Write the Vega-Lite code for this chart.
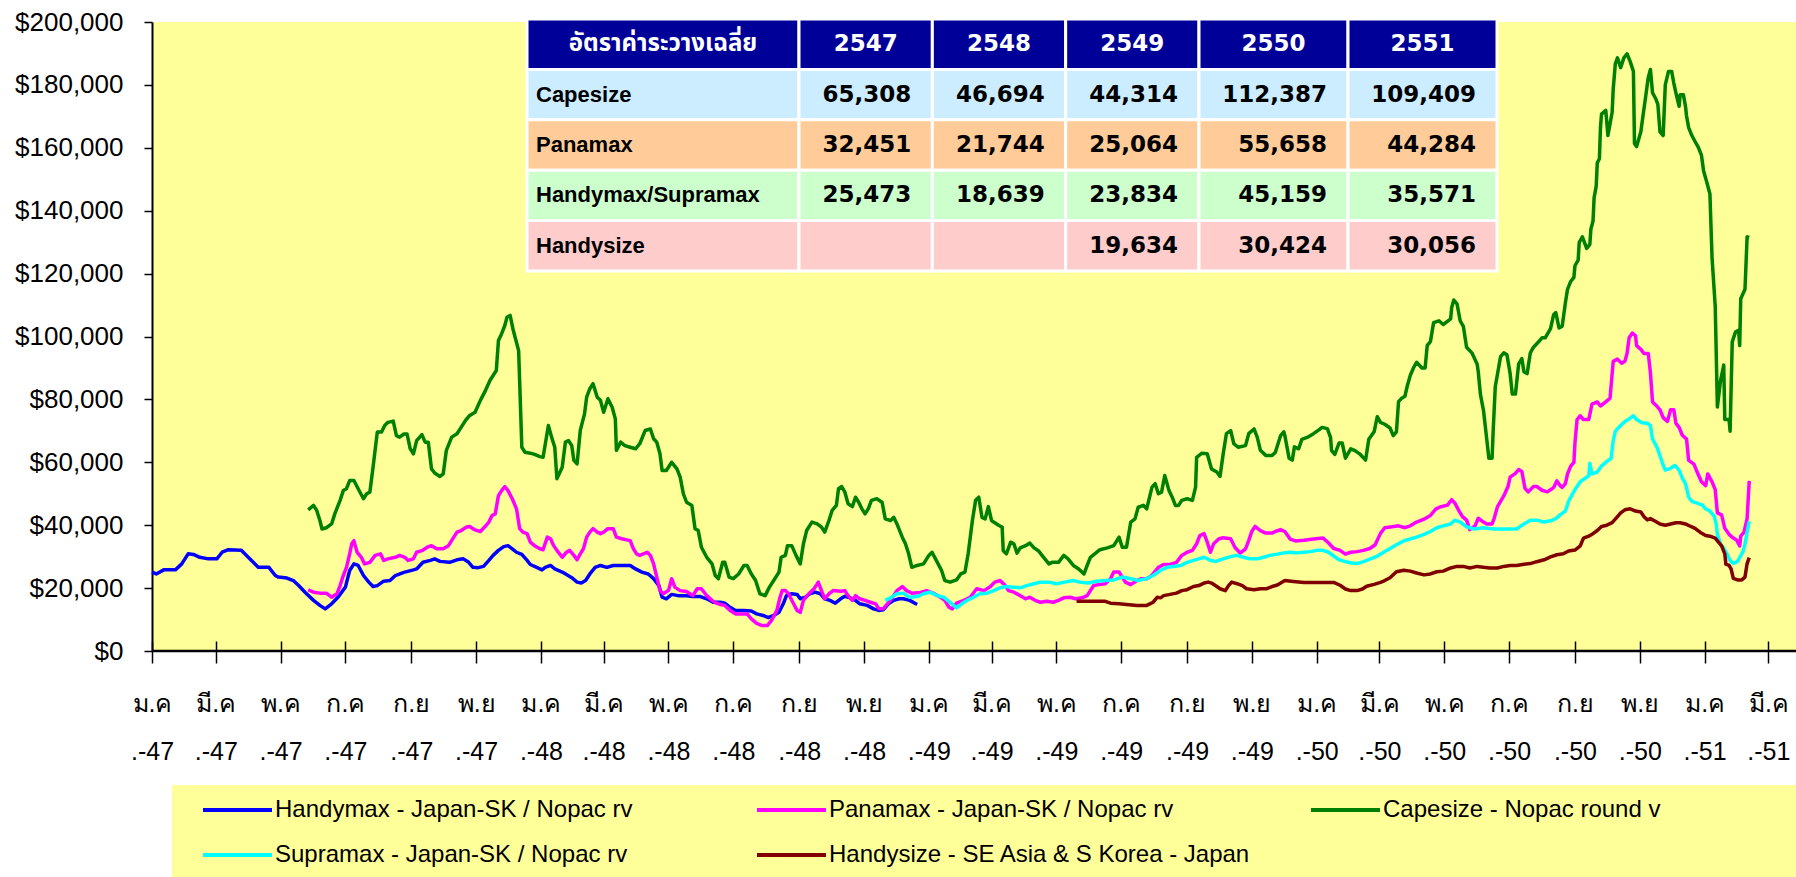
{
"$schema": "https://vega.github.io/schema/vega-lite/v6.json",
"autosize": {"type": "none"},
"width": 1644,
"height": 629,
"padding": {"left": 152, "top": 22, "right": 0, "bottom": 226},
"background": "white",
"config": {"view": {"fill": "#FFFF99", "stroke": null}, "axis": {"grid": false}},
"title": {"text": "(หน่วย : เหรียญ)", "anchor": "start", "frame": "group", "offset": 11, "dx": 28, "fontSize": 24, "fontWeight": "normal", "color": "black", "font": "Liberation Sans, Tahoma, sans-serif", "baseline": "alphabetic"},
"datasets": {
"rates": [
{"series":"Handymax","date":"2004-01-01","usd":25100},{"series":"Handymax","date":"2004-01-05","usd":24500},{"series":"Handymax","date":"2004-01-12","usd":25800},{"series":"Handymax","date":"2004-01-23","usd":25800},{"series":"Handymax","date":"2004-01-29","usd":27700},{"series":"Handymax","date":"2004-02-04","usd":30900},{"series":"Handymax","date":"2004-02-09","usd":30700},{"series":"Handymax","date":"2004-02-15","usd":29800},{"series":"Handymax","date":"2004-02-23","usd":29300},{"series":"Handymax","date":"2004-03-02","usd":29300},{"series":"Handymax","date":"2004-03-07","usd":31400},{"series":"Handymax","date":"2004-03-13","usd":32200},{"series":"Handymax","date":"2004-03-25","usd":32000},{"series":"Handymax","date":"2004-04-02","usd":29300},{"series":"Handymax","date":"2004-04-10","usd":26600},{"series":"Handymax","date":"2004-04-20","usd":26600},{"series":"Handymax","date":"2004-04-26","usd":24000},{"series":"Handymax","date":"2004-04-29","usd":23500},{"series":"Handymax","date":"2004-05-07","usd":23200},{"series":"Handymax","date":"2004-05-13","usd":22400},{"series":"Handymax","date":"2004-05-18","usd":20800},{"series":"Handymax","date":"2004-05-24","usd":18700},{"series":"Handymax","date":"2004-06-01","usd":16100},{"series":"Handymax","date":"2004-06-07","usd":14500},{"series":"Handymax","date":"2004-06-12","usd":13400},{"series":"Handymax","date":"2004-06-18","usd":15000},{"series":"Handymax","date":"2004-06-24","usd":17100},{"series":"Handymax","date":"2004-07-01","usd":20300},{"series":"Handymax","date":"2004-07-05","usd":25600},{"series":"Handymax","date":"2004-07-09","usd":27700},{"series":"Handymax","date":"2004-07-13","usd":27200},{"series":"Handymax","date":"2004-07-18","usd":24000},{"series":"Handymax","date":"2004-07-23","usd":21900},{"series":"Handymax","date":"2004-07-27","usd":20500},{"series":"Handymax","date":"2004-07-31","usd":20800},{"series":"Handymax","date":"2004-08-06","usd":22200},{"series":"Handymax","date":"2004-08-12","usd":22400},{"series":"Handymax","date":"2004-08-17","usd":24000},{"series":"Handymax","date":"2004-08-25","usd":25000},{"series":"Handymax","date":"2004-09-03","usd":25800},{"series":"Handymax","date":"2004-09-06","usd":26100},{"series":"Handymax","date":"2004-09-12","usd":28200},{"series":"Handymax","date":"2004-09-19","usd":28800},{"series":"Handymax","date":"2004-09-23","usd":29300},{"series":"Handymax","date":"2004-09-28","usd":28500},{"series":"Handymax","date":"2004-10-07","usd":28200},{"series":"Handymax","date":"2004-10-14","usd":29000},{"series":"Handymax","date":"2004-10-20","usd":29300},{"series":"Handymax","date":"2004-10-25","usd":28200},{"series":"Handymax","date":"2004-10-29","usd":26600},{"series":"Handymax","date":"2004-11-03","usd":26500},{"series":"Handymax","date":"2004-11-08","usd":26900},{"series":"Handymax","date":"2004-11-13","usd":28800},{"series":"Handymax","date":"2004-11-17","usd":30400},{"series":"Handymax","date":"2004-11-22","usd":32000},{"series":"Handymax","date":"2004-11-27","usd":33200},{"series":"Handymax","date":"2004-12-01","usd":33500},{"series":"Handymax","date":"2004-12-05","usd":32500},{"series":"Handymax","date":"2004-12-09","usd":31400},{"series":"Handymax","date":"2004-12-14","usd":30700},{"series":"Handymax","date":"2004-12-19","usd":28800},{"series":"Handymax","date":"2004-12-22","usd":27500},{"series":"Handymax","date":"2004-12-28","usd":26600},{"series":"Handymax","date":"2005-01-02","usd":25800},{"series":"Handymax","date":"2005-01-05","usd":26600},{"series":"Handymax","date":"2005-01-10","usd":27200},{"series":"Handymax","date":"2005-01-14","usd":26100},{"series":"Handymax","date":"2005-01-21","usd":25100},{"series":"Handymax","date":"2005-01-25","usd":24300},{"series":"Handymax","date":"2005-01-30","usd":23300},{"series":"Handymax","date":"2005-02-04","usd":21900},{"series":"Handymax","date":"2005-02-08","usd":21600},{"series":"Handymax","date":"2005-02-12","usd":22400},{"series":"Handymax","date":"2005-02-16","usd":24500},{"series":"Handymax","date":"2005-02-21","usd":26600},{"series":"Handymax","date":"2005-02-26","usd":27200},{"series":"Handymax","date":"2005-03-04","usd":26600},{"series":"Handymax","date":"2005-03-10","usd":27200},{"series":"Handymax","date":"2005-03-16","usd":27200},{"series":"Handymax","date":"2005-03-26","usd":27200},{"series":"Handymax","date":"2005-03-31","usd":26100},{"series":"Handymax","date":"2005-04-06","usd":25100},{"series":"Handymax","date":"2005-04-12","usd":24500},{"series":"Handymax","date":"2005-04-17","usd":23000},{"series":"Handymax","date":"2005-04-22","usd":20800},{"series":"Handymax","date":"2005-04-25","usd":17100},{"series":"Handymax","date":"2005-04-29","usd":16600},{"series":"Handymax","date":"2005-05-04","usd":18000},{"series":"Handymax","date":"2005-05-10","usd":17600},{"series":"Handymax","date":"2005-05-18","usd":17600},{"series":"Handymax","date":"2005-05-24","usd":17300},{"series":"Handymax","date":"2005-05-31","usd":17300},{"series":"Handymax","date":"2005-06-06","usd":16600},{"series":"Handymax","date":"2005-06-12","usd":15500},{"series":"Handymax","date":"2005-06-19","usd":15500},{"series":"Handymax","date":"2005-06-23","usd":15200},{"series":"Handymax","date":"2005-06-28","usd":13900},{"series":"Handymax","date":"2005-07-03","usd":12900},{"series":"Handymax","date":"2005-07-11","usd":12900},{"series":"Handymax","date":"2005-07-18","usd":12700},{"series":"Handymax","date":"2005-07-23","usd":11800},{"series":"Handymax","date":"2005-07-29","usd":11300},{"series":"Handymax","date":"2005-08-03","usd":10600},{"series":"Handymax","date":"2005-08-08","usd":11300},{"series":"Handymax","date":"2005-08-13","usd":12300},{"series":"Handymax","date":"2005-08-17","usd":15000},{"series":"Handymax","date":"2005-08-20","usd":17600},{"series":"Handymax","date":"2005-08-25","usd":18200},{"series":"Handymax","date":"2005-08-30","usd":18000},{"series":"Handymax","date":"2005-09-02","usd":16600},{"series":"Handymax","date":"2005-09-07","usd":17100},{"series":"Handymax","date":"2005-09-11","usd":18200},{"series":"Handymax","date":"2005-09-16","usd":18700},{"series":"Handymax","date":"2005-09-21","usd":18200},{"series":"Handymax","date":"2005-09-25","usd":16600},{"series":"Handymax","date":"2005-09-30","usd":16100},{"series":"Handymax","date":"2005-10-05","usd":15200},{"series":"Handymax","date":"2005-10-10","usd":16600},{"series":"Handymax","date":"2005-10-14","usd":17400},{"series":"Handymax","date":"2005-10-19","usd":16900},{"series":"Handymax","date":"2005-10-24","usd":16100},{"series":"Handymax","date":"2005-10-28","usd":15000},{"series":"Handymax","date":"2005-11-04","usd":14500},{"series":"Handymax","date":"2005-11-10","usd":13400},{"series":"Handymax","date":"2005-11-15","usd":12900},{"series":"Handymax","date":"2005-11-19","usd":13100},{"series":"Handymax","date":"2005-11-24","usd":15000},{"series":"Handymax","date":"2005-11-29","usd":16100},{"series":"Handymax","date":"2005-12-04","usd":16600},{"series":"Handymax","date":"2005-12-08","usd":16600},{"series":"Handymax","date":"2005-12-14","usd":16100},{"series":"Handymax","date":"2005-12-21","usd":14800},
{"series":"Panamax","date":"2004-05-27","usd":19400},{"series":"Panamax","date":"2004-06-01","usd":18700},{"series":"Panamax","date":"2004-06-07","usd":18400},{"series":"Panamax","date":"2004-06-13","usd":18400},{"series":"Panamax","date":"2004-06-18","usd":17100},{"series":"Panamax","date":"2004-06-23","usd":18200},{"series":"Panamax","date":"2004-06-26","usd":20800},{"series":"Panamax","date":"2004-06-29","usd":24000},{"series":"Panamax","date":"2004-07-02","usd":26600},{"series":"Panamax","date":"2004-07-05","usd":30900},{"series":"Panamax","date":"2004-07-07","usd":34100},{"series":"Panamax","date":"2004-07-09","usd":35100},{"series":"Panamax","date":"2004-07-12","usd":31400},{"series":"Panamax","date":"2004-07-16","usd":29800},{"series":"Panamax","date":"2004-07-19","usd":27700},{"series":"Panamax","date":"2004-07-24","usd":28200},{"series":"Panamax","date":"2004-07-29","usd":30400},{"series":"Panamax","date":"2004-08-03","usd":30900},{"series":"Panamax","date":"2004-08-06","usd":28800},{"series":"Panamax","date":"2004-08-10","usd":29300},{"series":"Panamax","date":"2004-08-17","usd":29800},{"series":"Panamax","date":"2004-08-21","usd":30400},{"series":"Panamax","date":"2004-08-26","usd":29800},{"series":"Panamax","date":"2004-08-29","usd":28800},{"series":"Panamax","date":"2004-09-03","usd":29300},{"series":"Panamax","date":"2004-09-06","usd":31400},{"series":"Panamax","date":"2004-09-11","usd":31900},{"series":"Panamax","date":"2004-09-16","usd":33000},{"series":"Panamax","date":"2004-09-20","usd":33500},{"series":"Panamax","date":"2004-09-25","usd":32500},{"series":"Panamax","date":"2004-10-01","usd":32500},{"series":"Panamax","date":"2004-10-06","usd":33500},{"series":"Panamax","date":"2004-10-11","usd":36200},{"series":"Panamax","date":"2004-10-14","usd":37800},{"series":"Panamax","date":"2004-10-18","usd":38300},{"series":"Panamax","date":"2004-10-23","usd":39400},{"series":"Panamax","date":"2004-10-26","usd":39600},{"series":"Panamax","date":"2004-10-31","usd":38500},{"series":"Panamax","date":"2004-11-05","usd":38000},{"series":"Panamax","date":"2004-11-09","usd":39400},{"series":"Panamax","date":"2004-11-13","usd":41000},{"series":"Panamax","date":"2004-11-16","usd":43100},{"series":"Panamax","date":"2004-11-19","usd":43600},{"series":"Panamax","date":"2004-11-22","usd":49400},{"series":"Panamax","date":"2004-11-25","usd":51000},{"series":"Panamax","date":"2004-11-28","usd":52300},{"series":"Panamax","date":"2004-12-01","usd":51000},{"series":"Panamax","date":"2004-12-05","usd":48400},{"series":"Panamax","date":"2004-12-09","usd":45200},{"series":"Panamax","date":"2004-12-12","usd":38900},{"series":"Panamax","date":"2004-12-15","usd":37800},{"series":"Panamax","date":"2004-12-19","usd":37300},{"series":"Panamax","date":"2004-12-22","usd":34600},{"series":"Panamax","date":"2004-12-26","usd":33500},{"series":"Panamax","date":"2004-12-31","usd":32500},{"series":"Panamax","date":"2005-01-03","usd":32200},{"series":"Panamax","date":"2005-01-07","usd":36200},{"series":"Panamax","date":"2005-01-10","usd":35700},{"series":"Panamax","date":"2005-01-13","usd":33500},{"series":"Panamax","date":"2005-01-16","usd":32000},{"series":"Panamax","date":"2005-01-21","usd":29800},{"series":"Panamax","date":"2005-01-25","usd":31400},{"series":"Panamax","date":"2005-01-28","usd":32000},{"series":"Panamax","date":"2005-02-01","usd":30400},{"series":"Panamax","date":"2005-02-04","usd":29000},{"series":"Panamax","date":"2005-02-07","usd":30900},{"series":"Panamax","date":"2005-02-10","usd":32500},{"series":"Panamax","date":"2005-02-13","usd":36200},{"series":"Panamax","date":"2005-02-16","usd":37800},{"series":"Panamax","date":"2005-02-19","usd":38900},{"series":"Panamax","date":"2005-02-23","usd":37800},{"series":"Panamax","date":"2005-02-26","usd":37300},{"series":"Panamax","date":"2005-03-01","usd":37800},{"series":"Panamax","date":"2005-03-05","usd":38900},{"series":"Panamax","date":"2005-03-10","usd":38900},{"series":"Panamax","date":"2005-03-13","usd":36200},{"series":"Panamax","date":"2005-03-18","usd":35700},{"series":"Panamax","date":"2005-03-26","usd":35100},{"series":"Panamax","date":"2005-03-29","usd":32500},{"series":"Panamax","date":"2005-04-01","usd":30900},{"series":"Panamax","date":"2005-04-04","usd":30400},{"series":"Panamax","date":"2005-04-11","usd":31400},{"series":"Panamax","date":"2005-04-14","usd":30400},{"series":"Panamax","date":"2005-04-17","usd":27700},{"series":"Panamax","date":"2005-04-20","usd":23500},{"series":"Panamax","date":"2005-04-23","usd":19200},{"series":"Panamax","date":"2005-04-26","usd":18200},{"series":"Panamax","date":"2005-05-01","usd":19200},{"series":"Panamax","date":"2005-05-04","usd":23000},{"series":"Panamax","date":"2005-05-07","usd":20300},{"series":"Panamax","date":"2005-05-12","usd":19200},{"series":"Panamax","date":"2005-05-18","usd":18900},{"series":"Panamax","date":"2005-05-24","usd":17600},{"series":"Panamax","date":"2005-05-28","usd":19800},{"series":"Panamax","date":"2005-06-01","usd":19800},{"series":"Panamax","date":"2005-06-06","usd":17600},{"series":"Panamax","date":"2005-06-11","usd":16100},{"series":"Panamax","date":"2005-06-15","usd":15200},{"series":"Panamax","date":"2005-06-19","usd":14800},{"series":"Panamax","date":"2005-06-23","usd":14500},{"series":"Panamax","date":"2005-06-28","usd":12900},{"series":"Panamax","date":"2005-07-03","usd":11800},{"series":"Panamax","date":"2005-07-14","usd":11800},{"series":"Panamax","date":"2005-07-18","usd":10200},{"series":"Panamax","date":"2005-07-23","usd":8800},{"series":"Panamax","date":"2005-07-28","usd":8100},{"series":"Panamax","date":"2005-08-02","usd":8100},{"series":"Panamax","date":"2005-08-06","usd":9700},{"series":"Panamax","date":"2005-08-11","usd":12900},{"series":"Panamax","date":"2005-08-14","usd":17100},{"series":"Panamax","date":"2005-08-16","usd":19200},{"series":"Panamax","date":"2005-08-19","usd":19200},{"series":"Panamax","date":"2005-08-22","usd":18200},{"series":"Panamax","date":"2005-08-26","usd":15500},{"series":"Panamax","date":"2005-08-30","usd":12900},{"series":"Panamax","date":"2005-09-02","usd":12300},{"series":"Panamax","date":"2005-09-05","usd":16100},{"series":"Panamax","date":"2005-09-10","usd":18200},{"series":"Panamax","date":"2005-09-15","usd":19800},{"series":"Panamax","date":"2005-09-19","usd":21900},{"series":"Panamax","date":"2005-09-22","usd":19200},{"series":"Panamax","date":"2005-09-25","usd":16600},{"series":"Panamax","date":"2005-09-29","usd":18200},{"series":"Panamax","date":"2005-10-03","usd":19200},{"series":"Panamax","date":"2005-10-10","usd":19000},{"series":"Panamax","date":"2005-10-14","usd":19200},{"series":"Panamax","date":"2005-10-17","usd":17600},{"series":"Panamax","date":"2005-10-21","usd":16100},{"series":"Panamax","date":"2005-10-24","usd":17600},{"series":"Panamax","date":"2005-10-28","usd":16600},{"series":"Panamax","date":"2005-11-02","usd":16100},{"series":"Panamax","date":"2005-11-07","usd":15500},{"series":"Panamax","date":"2005-11-12","usd":15000},{"series":"Panamax","date":"2005-11-15","usd":13400},{"series":"Panamax","date":"2005-11-19","usd":13400},{"series":"Panamax","date":"2005-11-23","usd":15000},{"series":"Panamax","date":"2005-11-27","usd":16600},{"series":"Panamax","date":"2005-12-02","usd":19200},{"series":"Panamax","date":"2005-12-07","usd":20500},{"series":"Panamax","date":"2005-12-11","usd":19200},{"series":"Panamax","date":"2005-12-16","usd":18400},{"series":"Panamax","date":"2005-12-24","usd":18600},{"series":"Panamax","date":"2005-12-30","usd":19200},{"series":"Panamax","date":"2006-01-05","usd":18400},{"series":"Panamax","date":"2006-01-12","usd":17100},{"series":"Panamax","date":"2006-01-16","usd":16100},{"series":"Panamax","date":"2006-01-20","usd":13900},{"series":"Panamax","date":"2006-01-23","usd":13400},{"series":"Panamax","date":"2006-01-27","usd":15200},{"series":"Panamax","date":"2006-02-03","usd":16100},{"series":"Panamax","date":"2006-02-09","usd":17100},{"series":"Panamax","date":"2006-02-15","usd":19800},{"series":"Panamax","date":"2006-02-22","usd":19200},{"series":"Panamax","date":"2006-02-28","usd":20500},{"series":"Panamax","date":"2006-03-04","usd":21900},{"series":"Panamax","date":"2006-03-09","usd":22400},{"series":"Panamax","date":"2006-03-14","usd":20800},{"series":"Panamax","date":"2006-03-17","usd":19200},{"series":"Panamax","date":"2006-03-22","usd":18700},{"series":"Panamax","date":"2006-03-28","usd":17600},{"series":"Panamax","date":"2006-04-02","usd":16600},{"series":"Panamax","date":"2006-04-06","usd":17100},{"series":"Panamax","date":"2006-04-11","usd":16100},{"series":"Panamax","date":"2006-04-16","usd":15500},{"series":"Panamax","date":"2006-04-22","usd":15800},{"series":"Panamax","date":"2006-04-28","usd":15500},{"series":"Panamax","date":"2006-05-03","usd":16100},{"series":"Panamax","date":"2006-05-08","usd":16900},{"series":"Panamax","date":"2006-05-14","usd":17100},{"series":"Panamax","date":"2006-05-19","usd":16600},{"series":"Panamax","date":"2006-05-25","usd":16900},{"series":"Panamax","date":"2006-05-30","usd":17600},{"series":"Panamax","date":"2006-06-02","usd":19200},{"series":"Panamax","date":"2006-06-05","usd":20800},{"series":"Panamax","date":"2006-06-10","usd":21100},{"series":"Panamax","date":"2006-06-16","usd":21400},{"series":"Panamax","date":"2006-06-21","usd":23000},{"series":"Panamax","date":"2006-06-24","usd":25100},{"series":"Panamax","date":"2006-06-29","usd":25100},{"series":"Panamax","date":"2006-07-02","usd":23500},{"series":"Panamax","date":"2006-07-05","usd":21900},{"series":"Panamax","date":"2006-07-10","usd":21100},{"series":"Panamax","date":"2006-07-16","usd":22400},{"series":"Panamax","date":"2006-07-20","usd":23000},{"series":"Panamax","date":"2006-07-25","usd":23000},{"series":"Panamax","date":"2006-07-28","usd":23500},{"series":"Panamax","date":"2006-07-31","usd":24500},{"series":"Panamax","date":"2006-08-05","usd":26600},{"series":"Panamax","date":"2006-08-10","usd":27500},{"series":"Panamax","date":"2006-08-16","usd":27500},{"series":"Panamax","date":"2006-08-22","usd":28200},{"series":"Panamax","date":"2006-08-27","usd":30400},{"series":"Panamax","date":"2006-09-01","usd":31400},{"series":"Panamax","date":"2006-09-06","usd":32000},{"series":"Panamax","date":"2006-09-10","usd":34100},{"series":"Panamax","date":"2006-09-13","usd":36700},{"series":"Panamax","date":"2006-09-17","usd":37300},{"series":"Panamax","date":"2006-09-20","usd":34600},{"series":"Panamax","date":"2006-09-23","usd":31400},{"series":"Panamax","date":"2006-09-26","usd":34100},{"series":"Panamax","date":"2006-10-01","usd":35700},{"series":"Panamax","date":"2006-10-05","usd":36000},{"series":"Panamax","date":"2006-10-12","usd":35700},{"series":"Panamax","date":"2006-10-16","usd":33000},{"series":"Panamax","date":"2006-10-21","usd":31100},{"series":"Panamax","date":"2006-10-26","usd":32500},{"series":"Panamax","date":"2006-10-29","usd":35100},{"series":"Panamax","date":"2006-11-01","usd":38100},{"series":"Panamax","date":"2006-11-04","usd":39600},{"series":"Panamax","date":"2006-11-09","usd":38300},{"series":"Panamax","date":"2006-11-14","usd":37500},{"series":"Panamax","date":"2006-11-20","usd":37500},{"series":"Panamax","date":"2006-11-23","usd":38000},{"series":"Panamax","date":"2006-11-28","usd":38600},{"series":"Panamax","date":"2006-12-02","usd":38000},{"series":"Panamax","date":"2006-12-07","usd":35600},{"series":"Panamax","date":"2006-12-12","usd":35000},{"series":"Panamax","date":"2006-12-20","usd":35200},{"series":"Panamax","date":"2006-12-29","usd":35600},{"series":"Panamax","date":"2007-01-07","usd":35900},{"series":"Panamax","date":"2007-01-12","usd":34400},{"series":"Panamax","date":"2007-01-17","usd":32600},{"series":"Panamax","date":"2007-01-23","usd":32000},{"series":"Panamax","date":"2007-01-28","usd":30800},{"series":"Panamax","date":"2007-02-02","usd":31400},{"series":"Panamax","date":"2007-02-08","usd":31600},{"series":"Panamax","date":"2007-02-14","usd":32000},{"series":"Panamax","date":"2007-02-20","usd":32600},{"series":"Panamax","date":"2007-02-25","usd":33800},{"series":"Panamax","date":"2007-03-02","usd":37400},{"series":"Panamax","date":"2007-03-06","usd":39200},{"series":"Panamax","date":"2007-03-13","usd":39500},{"series":"Panamax","date":"2007-03-19","usd":39800},{"series":"Panamax","date":"2007-03-25","usd":39200},{"series":"Panamax","date":"2007-03-30","usd":39800},{"series":"Panamax","date":"2007-04-05","usd":41000},{"series":"Panamax","date":"2007-04-12","usd":41900},{"series":"Panamax","date":"2007-04-18","usd":43100},{"series":"Panamax","date":"2007-04-23","usd":45100},{"series":"Panamax","date":"2007-04-27","usd":45800},{"series":"Panamax","date":"2007-05-04","usd":46400},{"series":"Panamax","date":"2007-05-08","usd":48100},{"series":"Panamax","date":"2007-05-11","usd":47000},{"series":"Panamax","date":"2007-05-15","usd":44500},{"series":"Panamax","date":"2007-05-18","usd":42800},{"series":"Panamax","date":"2007-05-22","usd":41600},{"series":"Panamax","date":"2007-05-25","usd":38600},{"series":"Panamax","date":"2007-05-30","usd":39800},{"series":"Panamax","date":"2007-06-02","usd":42200},{"series":"Panamax","date":"2007-06-07","usd":41000},{"series":"Panamax","date":"2007-06-10","usd":40400},{"series":"Panamax","date":"2007-06-15","usd":40400},{"series":"Panamax","date":"2007-06-17","usd":42200},{"series":"Panamax","date":"2007-06-20","usd":45800},{"series":"Panamax","date":"2007-06-23","usd":47600},{"series":"Panamax","date":"2007-06-26","usd":49300},{"series":"Panamax","date":"2007-06-30","usd":52300},{"series":"Panamax","date":"2007-07-02","usd":55300},{"series":"Panamax","date":"2007-07-07","usd":56500},{"series":"Panamax","date":"2007-07-10","usd":57700},{"series":"Panamax","date":"2007-07-13","usd":57100},{"series":"Panamax","date":"2007-07-16","usd":51700},{"series":"Panamax","date":"2007-07-19","usd":50600},{"series":"Panamax","date":"2007-07-24","usd":52300},{"series":"Panamax","date":"2007-07-27","usd":52300},{"series":"Panamax","date":"2007-08-01","usd":51100},{"series":"Panamax","date":"2007-08-06","usd":50600},{"series":"Panamax","date":"2007-08-10","usd":51500},{"series":"Panamax","date":"2007-08-12","usd":52000},{"series":"Panamax","date":"2007-08-15","usd":54100},{"series":"Panamax","date":"2007-08-18","usd":52600},{"series":"Panamax","date":"2007-08-20","usd":52000},{"series":"Panamax","date":"2007-08-23","usd":53200},{"series":"Panamax","date":"2007-08-25","usd":56300},{"series":"Panamax","date":"2007-08-28","usd":58800},{"series":"Panamax","date":"2007-08-31","usd":60000},{"series":"Panamax","date":"2007-09-01","usd":66200},{"series":"Panamax","date":"2007-09-03","usd":73600},{"series":"Panamax","date":"2007-09-06","usd":74800},{"series":"Panamax","date":"2007-09-09","usd":73600},{"series":"Panamax","date":"2007-09-14","usd":73600},{"series":"Panamax","date":"2007-09-17","usd":78500},{"series":"Panamax","date":"2007-09-22","usd":79200},{"series":"Panamax","date":"2007-09-25","usd":77900},{"series":"Panamax","date":"2007-09-30","usd":79200},{"series":"Panamax","date":"2007-10-04","usd":80400},{"series":"Panamax","date":"2007-10-07","usd":92100},{"series":"Panamax","date":"2007-10-11","usd":92800},{"series":"Panamax","date":"2007-10-15","usd":91500},{"series":"Panamax","date":"2007-10-18","usd":92100},{"series":"Panamax","date":"2007-10-20","usd":94600},{"series":"Panamax","date":"2007-10-22","usd":99600},{"series":"Panamax","date":"2007-10-25","usd":101100},{"series":"Panamax","date":"2007-10-28","usd":100200},{"series":"Panamax","date":"2007-10-29","usd":97100},{"series":"Panamax","date":"2007-11-02","usd":95900},{"series":"Panamax","date":"2007-11-05","usd":94600},{"series":"Panamax","date":"2007-11-09","usd":94600},{"series":"Panamax","date":"2007-11-11","usd":88500},{"series":"Panamax","date":"2007-11-13","usd":79200},{"series":"Panamax","date":"2007-11-17","usd":77900},{"series":"Panamax","date":"2007-11-20","usd":76700},{"series":"Panamax","date":"2007-11-23","usd":74200},{"series":"Panamax","date":"2007-11-27","usd":73000},{"series":"Panamax","date":"2007-11-30","usd":76700},{"series":"Panamax","date":"2007-12-03","usd":76700},{"series":"Panamax","date":"2007-12-05","usd":72400},{"series":"Panamax","date":"2007-12-08","usd":71100},{"series":"Panamax","date":"2007-12-11","usd":68600},{"series":"Panamax","date":"2007-12-15","usd":67400},{"series":"Panamax","date":"2007-12-17","usd":60600},{"series":"Panamax","date":"2007-12-22","usd":59400},{"series":"Panamax","date":"2007-12-25","usd":56900},{"series":"Panamax","date":"2007-12-29","usd":53800},{"series":"Panamax","date":"2008-01-02","usd":52600},{"series":"Panamax","date":"2008-01-04","usd":56300},{"series":"Panamax","date":"2008-01-08","usd":53800},{"series":"Panamax","date":"2008-01-11","usd":51300},{"series":"Panamax","date":"2008-01-13","usd":43900},{"series":"Panamax","date":"2008-01-17","usd":43300},{"series":"Panamax","date":"2008-01-20","usd":39000},{"series":"Panamax","date":"2008-01-24","usd":37100},{"series":"Panamax","date":"2008-01-28","usd":35900},{"series":"Panamax","date":"2008-01-31","usd":35300},{"series":"Panamax","date":"2008-02-03","usd":33400},{"series":"Panamax","date":"2008-02-04","usd":36500},{"series":"Panamax","date":"2008-02-07","usd":37700},{"series":"Panamax","date":"2008-02-10","usd":42100},{"series":"Panamax","date":"2008-02-12","usd":54100},
{"series":"Capesize","date":"2004-05-27","usd":44900},{"series":"Capesize","date":"2004-06-01","usd":46300},{"series":"Capesize","date":"2004-06-04","usd":44700},{"series":"Capesize","date":"2004-06-07","usd":41500},{"series":"Capesize","date":"2004-06-09","usd":38800},{"series":"Capesize","date":"2004-06-13","usd":39200},{"series":"Capesize","date":"2004-06-18","usd":40400},{"series":"Capesize","date":"2004-06-21","usd":43600},{"series":"Capesize","date":"2004-06-26","usd":47900},{"series":"Capesize","date":"2004-06-29","usd":51000},{"series":"Capesize","date":"2004-07-02","usd":51600},{"series":"Capesize","date":"2004-07-05","usd":54200},{"series":"Capesize","date":"2004-07-09","usd":54200},{"series":"Capesize","date":"2004-07-13","usd":51600},{"series":"Capesize","date":"2004-07-18","usd":48400},{"series":"Capesize","date":"2004-07-21","usd":50000},{"series":"Capesize","date":"2004-07-24","usd":50500},{"series":"Capesize","date":"2004-07-27","usd":58400},{"series":"Capesize","date":"2004-07-31","usd":69600},{"series":"Capesize","date":"2004-08-04","usd":69600},{"series":"Capesize","date":"2004-08-07","usd":71700},{"series":"Capesize","date":"2004-08-10","usd":72700},{"series":"Capesize","date":"2004-08-15","usd":73100},{"series":"Capesize","date":"2004-08-18","usd":68500},{"series":"Capesize","date":"2004-08-21","usd":68000},{"series":"Capesize","date":"2004-08-25","usd":69000},{"series":"Capesize","date":"2004-08-28","usd":69000},{"series":"Capesize","date":"2004-08-31","usd":64300},{"series":"Capesize","date":"2004-09-03","usd":62700},{"series":"Capesize","date":"2004-09-06","usd":66900},{"series":"Capesize","date":"2004-09-11","usd":68800},{"series":"Capesize","date":"2004-09-14","usd":66400},{"series":"Capesize","date":"2004-09-17","usd":66400},{"series":"Capesize","date":"2004-09-20","usd":57900},{"series":"Capesize","date":"2004-09-23","usd":56600},{"series":"Capesize","date":"2004-09-28","usd":55500},{"series":"Capesize","date":"2004-10-01","usd":56300},{"series":"Capesize","date":"2004-10-04","usd":63800},{"series":"Capesize","date":"2004-10-09","usd":68000},{"series":"Capesize","date":"2004-10-14","usd":69100},{"series":"Capesize","date":"2004-10-18","usd":71200},{"series":"Capesize","date":"2004-10-22","usd":73300},{"series":"Capesize","date":"2004-10-26","usd":74900},{"series":"Capesize","date":"2004-10-31","usd":75900},{"series":"Capesize","date":"2004-11-05","usd":79700},{"series":"Capesize","date":"2004-11-09","usd":82300},{"series":"Capesize","date":"2004-11-14","usd":86000},{"series":"Capesize","date":"2004-11-17","usd":87600},{"series":"Capesize","date":"2004-11-20","usd":89200},{"series":"Capesize","date":"2004-11-22","usd":98700},{"series":"Capesize","date":"2004-11-25","usd":100900},{"series":"Capesize","date":"2004-11-28","usd":103500},{"series":"Capesize","date":"2004-11-30","usd":106100},{"series":"Capesize","date":"2004-12-03","usd":106700},{"series":"Capesize","date":"2004-12-06","usd":101900},{"series":"Capesize","date":"2004-12-11","usd":95500},{"series":"Capesize","date":"2004-12-14","usd":64800},{"series":"Capesize","date":"2004-12-17","usd":63200},{"series":"Capesize","date":"2004-12-22","usd":62900},{"series":"Capesize","date":"2004-12-26","usd":62500},{"series":"Capesize","date":"2004-12-31","usd":61800},{"series":"Capesize","date":"2005-01-03","usd":61600},{"series":"Capesize","date":"2005-01-08","usd":71700},{"series":"Capesize","date":"2005-01-11","usd":68000},{"series":"Capesize","date":"2005-01-14","usd":64800},{"series":"Capesize","date":"2005-01-16","usd":54800},{"series":"Capesize","date":"2005-01-21","usd":58400},{"series":"Capesize","date":"2005-01-24","usd":66400},{"series":"Capesize","date":"2005-01-27","usd":66900},{"series":"Capesize","date":"2005-01-30","usd":65300},{"series":"Capesize","date":"2005-02-01","usd":60600},{"series":"Capesize","date":"2005-02-04","usd":59500},{"series":"Capesize","date":"2005-02-07","usd":70100},{"series":"Capesize","date":"2005-02-11","usd":75400},{"series":"Capesize","date":"2005-02-13","usd":80700},{"series":"Capesize","date":"2005-02-16","usd":83400},{"series":"Capesize","date":"2005-02-19","usd":85000},{"series":"Capesize","date":"2005-02-23","usd":80700},{"series":"Capesize","date":"2005-02-26","usd":79700},{"series":"Capesize","date":"2005-03-01","usd":75900},{"series":"Capesize","date":"2005-03-05","usd":80200},{"series":"Capesize","date":"2005-03-09","usd":77500},{"series":"Capesize","date":"2005-03-12","usd":73800},{"series":"Capesize","date":"2005-03-13","usd":63800},{"series":"Capesize","date":"2005-03-17","usd":66400},{"series":"Capesize","date":"2005-03-21","usd":65300},{"series":"Capesize","date":"2005-03-26","usd":64800},{"series":"Capesize","date":"2005-03-31","usd":64300},{"series":"Capesize","date":"2005-04-04","usd":65900},{"series":"Capesize","date":"2005-04-09","usd":70100},{"series":"Capesize","date":"2005-04-14","usd":70600},{"series":"Capesize","date":"2005-04-17","usd":67500},{"series":"Capesize","date":"2005-04-20","usd":66400},{"series":"Capesize","date":"2005-04-23","usd":62700},{"series":"Capesize","date":"2005-04-25","usd":57400},{"series":"Capesize","date":"2005-04-29","usd":57400},{"series":"Capesize","date":"2005-05-04","usd":60000},{"series":"Capesize","date":"2005-05-09","usd":57900},{"series":"Capesize","date":"2005-05-12","usd":55300},{"series":"Capesize","date":"2005-05-15","usd":50000},{"series":"Capesize","date":"2005-05-18","usd":47300},{"series":"Capesize","date":"2005-05-23","usd":46300},{"series":"Capesize","date":"2005-05-26","usd":38900},{"series":"Capesize","date":"2005-05-29","usd":38300},{"series":"Capesize","date":"2005-06-01","usd":33000},{"series":"Capesize","date":"2005-06-06","usd":29800},{"series":"Capesize","date":"2005-06-11","usd":27700},{"series":"Capesize","date":"2005-06-14","usd":24000},{"series":"Capesize","date":"2005-06-17","usd":23000},{"series":"Capesize","date":"2005-06-19","usd":25600},{"series":"Capesize","date":"2005-06-21","usd":28200},{"series":"Capesize","date":"2005-06-23","usd":28200},{"series":"Capesize","date":"2005-06-27","usd":23500},{"series":"Capesize","date":"2005-07-01","usd":23000},{"series":"Capesize","date":"2005-07-06","usd":24500},{"series":"Capesize","date":"2005-07-11","usd":27200},{"series":"Capesize","date":"2005-07-14","usd":27200},{"series":"Capesize","date":"2005-07-18","usd":24500},{"series":"Capesize","date":"2005-07-22","usd":22400},{"series":"Capesize","date":"2005-07-26","usd":18200},{"series":"Capesize","date":"2005-07-31","usd":17600},{"series":"Capesize","date":"2005-08-04","usd":20300},{"series":"Capesize","date":"2005-08-08","usd":22400},{"series":"Capesize","date":"2005-08-13","usd":25100},{"series":"Capesize","date":"2005-08-15","usd":29800},{"series":"Capesize","date":"2005-08-19","usd":30400},{"series":"Capesize","date":"2005-08-21","usd":33500},{"series":"Capesize","date":"2005-08-25","usd":33500},{"series":"Capesize","date":"2005-08-29","usd":30400},{"series":"Capesize","date":"2005-09-02","usd":27700},{"series":"Capesize","date":"2005-09-05","usd":34100},{"series":"Capesize","date":"2005-09-08","usd":38300},{"series":"Capesize","date":"2005-09-13","usd":41000},{"series":"Capesize","date":"2005-09-18","usd":40400},{"series":"Capesize","date":"2005-09-22","usd":39400},{"series":"Capesize","date":"2005-09-25","usd":37800},{"series":"Capesize","date":"2005-09-29","usd":41500},{"series":"Capesize","date":"2005-10-02","usd":44700},{"series":"Capesize","date":"2005-10-06","usd":46300},{"series":"Capesize","date":"2005-10-08","usd":51600},{"series":"Capesize","date":"2005-10-11","usd":52300},{"series":"Capesize","date":"2005-10-14","usd":50500},{"series":"Capesize","date":"2005-10-17","usd":46800},{"series":"Capesize","date":"2005-10-21","usd":45900},{"series":"Capesize","date":"2005-10-24","usd":48900},{"series":"Capesize","date":"2005-10-27","usd":47300},{"series":"Capesize","date":"2005-10-30","usd":45200},{"series":"Capesize","date":"2005-11-02","usd":43600},{"series":"Capesize","date":"2005-11-05","usd":45200},{"series":"Capesize","date":"2005-11-08","usd":47900},{"series":"Capesize","date":"2005-11-13","usd":48400},{"series":"Capesize","date":"2005-11-18","usd":47300},{"series":"Capesize","date":"2005-11-21","usd":42000},{"series":"Capesize","date":"2005-11-26","usd":41500},{"series":"Capesize","date":"2005-11-29","usd":42500},{"series":"Capesize","date":"2005-12-02","usd":40400},{"series":"Capesize","date":"2005-12-07","usd":36200},{"series":"Capesize","date":"2005-12-10","usd":34100},{"series":"Capesize","date":"2005-12-13","usd":30900},{"series":"Capesize","date":"2005-12-16","usd":26600},{"series":"Capesize","date":"2005-12-21","usd":27200},{"series":"Capesize","date":"2005-12-27","usd":27700},{"series":"Capesize","date":"2006-01-01","usd":30400},{"series":"Capesize","date":"2006-01-04","usd":31400},{"series":"Capesize","date":"2006-01-09","usd":28200},{"series":"Capesize","date":"2006-01-13","usd":25600},{"series":"Capesize","date":"2006-01-16","usd":22400},{"series":"Capesize","date":"2006-01-21","usd":21900},{"series":"Capesize","date":"2006-01-27","usd":22600},{"series":"Capesize","date":"2006-01-31","usd":24500},{"series":"Capesize","date":"2006-02-04","usd":25100},{"series":"Capesize","date":"2006-02-07","usd":30900},{"series":"Capesize","date":"2006-02-11","usd":41500},{"series":"Capesize","date":"2006-02-14","usd":47900},{"series":"Capesize","date":"2006-02-17","usd":48900},{"series":"Capesize","date":"2006-02-20","usd":42500},{"series":"Capesize","date":"2006-02-23","usd":42000},{"series":"Capesize","date":"2006-02-26","usd":45900},{"series":"Capesize","date":"2006-03-01","usd":41500},{"series":"Capesize","date":"2006-03-03","usd":41000},{"series":"Capesize","date":"2006-03-08","usd":39900},{"series":"Capesize","date":"2006-03-11","usd":39400},{"series":"Capesize","date":"2006-03-12","usd":31900},{"series":"Capesize","date":"2006-03-15","usd":30900},{"series":"Capesize","date":"2006-03-19","usd":34600},{"series":"Capesize","date":"2006-03-22","usd":34100},{"series":"Capesize","date":"2006-03-25","usd":31100},{"series":"Capesize","date":"2006-03-28","usd":32800},{"series":"Capesize","date":"2006-04-02","usd":33500},{"series":"Capesize","date":"2006-04-06","usd":34300},{"series":"Capesize","date":"2006-04-10","usd":32800},{"series":"Capesize","date":"2006-04-14","usd":31900},{"series":"Capesize","date":"2006-04-19","usd":29800},{"series":"Capesize","date":"2006-04-24","usd":27700},{"series":"Capesize","date":"2006-04-27","usd":28200},{"series":"Capesize","date":"2006-05-03","usd":28200},{"series":"Capesize","date":"2006-05-08","usd":30400},{"series":"Capesize","date":"2006-05-12","usd":29300},{"series":"Capesize","date":"2006-05-17","usd":27200},{"series":"Capesize","date":"2006-05-22","usd":26100},{"series":"Capesize","date":"2006-05-27","usd":24500},{"series":"Capesize","date":"2006-05-30","usd":27200},{"series":"Capesize","date":"2006-06-02","usd":29800},{"series":"Capesize","date":"2006-06-07","usd":31100},{"series":"Capesize","date":"2006-06-11","usd":32200},{"series":"Capesize","date":"2006-06-18","usd":32800},{"series":"Capesize","date":"2006-06-24","usd":33500},{"series":"Capesize","date":"2006-06-29","usd":36200},{"series":"Capesize","date":"2006-07-02","usd":33000},{"series":"Capesize","date":"2006-07-06","usd":33000},{"series":"Capesize","date":"2006-07-10","usd":41000},{"series":"Capesize","date":"2006-07-14","usd":42000},{"series":"Capesize","date":"2006-07-17","usd":45700},{"series":"Capesize","date":"2006-07-22","usd":46300},{"series":"Capesize","date":"2006-07-25","usd":45200},{"series":"Capesize","date":"2006-07-30","usd":52100},{"series":"Capesize","date":"2006-08-02","usd":53200},{"series":"Capesize","date":"2006-08-05","usd":50000},{"series":"Capesize","date":"2006-08-08","usd":50500},{"series":"Capesize","date":"2006-08-11","usd":55800},{"series":"Capesize","date":"2006-08-15","usd":51000},{"series":"Capesize","date":"2006-08-18","usd":48900},{"series":"Capesize","date":"2006-08-21","usd":46300},{"series":"Capesize","date":"2006-08-24","usd":46300},{"series":"Capesize","date":"2006-08-27","usd":47900},{"series":"Capesize","date":"2006-09-01","usd":48400},{"series":"Capesize","date":"2006-09-06","usd":47900},{"series":"Capesize","date":"2006-09-09","usd":52100},{"series":"Capesize","date":"2006-09-10","usd":61600},{"series":"Capesize","date":"2006-09-15","usd":62900},{"series":"Capesize","date":"2006-09-20","usd":62700},{"series":"Capesize","date":"2006-09-24","usd":57900},{"series":"Capesize","date":"2006-09-29","usd":56900},{"series":"Capesize","date":"2006-10-02","usd":55500},{"series":"Capesize","date":"2006-10-05","usd":62700},{"series":"Capesize","date":"2006-10-08","usd":69100},{"series":"Capesize","date":"2006-10-12","usd":70100},{"series":"Capesize","date":"2006-10-15","usd":65900},{"series":"Capesize","date":"2006-10-19","usd":64800},{"series":"Capesize","date":"2006-10-26","usd":65300},{"series":"Capesize","date":"2006-10-29","usd":69100},{"series":"Capesize","date":"2006-11-03","usd":70600},{"series":"Capesize","date":"2006-11-06","usd":68000},{"series":"Capesize","date":"2006-11-09","usd":63800},{"series":"Capesize","date":"2006-11-14","usd":62200},{"series":"Capesize","date":"2006-11-20","usd":62200},{"series":"Capesize","date":"2006-11-23","usd":63100},{"series":"Capesize","date":"2006-11-28","usd":68500},{"series":"Capesize","date":"2006-12-01","usd":69700},{"series":"Capesize","date":"2006-12-02","usd":68500},{"series":"Capesize","date":"2006-12-06","usd":61300},{"series":"Capesize","date":"2006-12-09","usd":60700},{"series":"Capesize","date":"2006-12-11","usd":64900},{"series":"Capesize","date":"2006-12-15","usd":64300},{"series":"Capesize","date":"2006-12-18","usd":67300},{"series":"Capesize","date":"2006-12-23","usd":67900},{"series":"Capesize","date":"2006-12-29","usd":69100},{"series":"Capesize","date":"2007-01-03","usd":70300},{"series":"Capesize","date":"2007-01-06","usd":71100},{"series":"Capesize","date":"2007-01-11","usd":70700},{"series":"Capesize","date":"2007-01-14","usd":67900},{"series":"Capesize","date":"2007-01-15","usd":63700},{"series":"Capesize","date":"2007-01-18","usd":62500},{"series":"Capesize","date":"2007-01-22","usd":66100},{"series":"Capesize","date":"2007-01-25","usd":66100},{"series":"Capesize","date":"2007-01-28","usd":61300},{"series":"Capesize","date":"2007-02-02","usd":64300},{"series":"Capesize","date":"2007-02-06","usd":63700},{"series":"Capesize","date":"2007-02-11","usd":62500},{"series":"Capesize","date":"2007-02-16","usd":60700},{"series":"Capesize","date":"2007-02-19","usd":67300},{"series":"Capesize","date":"2007-02-24","usd":69700},{"series":"Capesize","date":"2007-02-27","usd":74500},{"series":"Capesize","date":"2007-03-02","usd":72700},{"series":"Capesize","date":"2007-03-06","usd":72100},{"series":"Capesize","date":"2007-03-11","usd":70900},{"series":"Capesize","date":"2007-03-14","usd":68500},{"series":"Capesize","date":"2007-03-17","usd":69700},{"series":"Capesize","date":"2007-03-19","usd":79300},{"series":"Capesize","date":"2007-03-22","usd":80400},{"series":"Capesize","date":"2007-03-25","usd":81000},{"series":"Capesize","date":"2007-03-27","usd":84000},{"series":"Capesize","date":"2007-03-30","usd":87600},{"series":"Capesize","date":"2007-04-02","usd":90000},{"series":"Capesize","date":"2007-04-05","usd":91800},{"series":"Capesize","date":"2007-04-10","usd":90000},{"series":"Capesize","date":"2007-04-13","usd":90000},{"series":"Capesize","date":"2007-04-15","usd":97200},{"series":"Capesize","date":"2007-04-18","usd":98400},{"series":"Capesize","date":"2007-04-21","usd":104400},{"series":"Capesize","date":"2007-04-26","usd":105000},{"series":"Capesize","date":"2007-04-30","usd":103800},{"series":"Capesize","date":"2007-05-07","usd":105600},{"series":"Capesize","date":"2007-05-08","usd":109200},{"series":"Capesize","date":"2007-05-10","usd":111600},{"series":"Capesize","date":"2007-05-13","usd":110400},{"series":"Capesize","date":"2007-05-16","usd":105000},{"series":"Capesize","date":"2007-05-19","usd":103200},{"series":"Capesize","date":"2007-05-22","usd":96600},{"series":"Capesize","date":"2007-05-27","usd":94800},{"series":"Capesize","date":"2007-06-01","usd":91200},{"series":"Capesize","date":"2007-06-02","usd":88800},{"series":"Capesize","date":"2007-06-04","usd":81700},{"series":"Capesize","date":"2007-06-07","usd":76300},{"series":"Capesize","date":"2007-06-10","usd":67300},{"series":"Capesize","date":"2007-06-12","usd":61300},{"series":"Capesize","date":"2007-06-15","usd":61300},{"series":"Capesize","date":"2007-06-16","usd":69700},{"series":"Capesize","date":"2007-06-18","usd":84000},{"series":"Capesize","date":"2007-06-23","usd":93600},{"series":"Capesize","date":"2007-06-26","usd":94800},{"series":"Capesize","date":"2007-06-29","usd":94200},{"series":"Capesize","date":"2007-07-02","usd":88200},{"series":"Capesize","date":"2007-07-04","usd":81700},{"series":"Capesize","date":"2007-07-07","usd":81700},{"series":"Capesize","date":"2007-07-10","usd":91200},{"series":"Capesize","date":"2007-07-13","usd":93000},{"series":"Capesize","date":"2007-07-15","usd":88800},{"series":"Capesize","date":"2007-07-18","usd":88200},{"series":"Capesize","date":"2007-07-21","usd":94800},{"series":"Capesize","date":"2007-07-24","usd":96600},{"series":"Capesize","date":"2007-07-29","usd":98400},{"series":"Capesize","date":"2007-08-01","usd":99600},{"series":"Capesize","date":"2007-08-04","usd":99600},{"series":"Capesize","date":"2007-08-09","usd":102500},{"series":"Capesize","date":"2007-08-12","usd":107000},{"series":"Capesize","date":"2007-08-14","usd":107600},{"series":"Capesize","date":"2007-08-17","usd":102700},{"series":"Capesize","date":"2007-08-20","usd":103300},{"series":"Capesize","date":"2007-08-23","usd":110700},{"series":"Capesize","date":"2007-08-25","usd":115000},{"series":"Capesize","date":"2007-08-28","usd":117500},{"series":"Capesize","date":"2007-08-31","usd":118800},{"series":"Capesize","date":"2007-09-01","usd":122500},{"series":"Capesize","date":"2007-09-04","usd":124300},{"series":"Capesize","date":"2007-09-05","usd":129900},{"series":"Capesize","date":"2007-09-08","usd":131700},{"series":"Capesize","date":"2007-09-12","usd":128000},{"series":"Capesize","date":"2007-09-15","usd":129300},{"series":"Capesize","date":"2007-09-16","usd":134200},{"series":"Capesize","date":"2007-09-18","usd":136700},{"series":"Capesize","date":"2007-09-19","usd":144100},{"series":"Capesize","date":"2007-09-21","usd":147800},{"series":"Capesize","date":"2007-09-22","usd":155200},{"series":"Capesize","date":"2007-09-24","usd":156500},{"series":"Capesize","date":"2007-09-25","usd":166400},{"series":"Capesize","date":"2007-09-26","usd":170700},{"series":"Capesize","date":"2007-09-30","usd":171900},{"series":"Capesize","date":"2007-10-02","usd":163900},{"series":"Capesize","date":"2007-10-04","usd":167600},{"series":"Capesize","date":"2007-10-06","usd":171300},{"series":"Capesize","date":"2007-10-07","usd":178700},{"series":"Capesize","date":"2007-10-09","usd":186800},{"series":"Capesize","date":"2007-10-11","usd":188600},{"series":"Capesize","date":"2007-10-14","usd":185500},{"series":"Capesize","date":"2007-10-17","usd":188600},{"series":"Capesize","date":"2007-10-20","usd":189900},{"series":"Capesize","date":"2007-10-23","usd":187400},{"series":"Capesize","date":"2007-10-26","usd":184300},{"series":"Capesize","date":"2007-10-27","usd":161400},{"series":"Capesize","date":"2007-10-29","usd":160400},{"series":"Capesize","date":"2007-11-02","usd":165100},{"series":"Capesize","date":"2007-11-04","usd":170100},{"series":"Capesize","date":"2007-11-06","usd":175000},{"series":"Capesize","date":"2007-11-09","usd":182400},{"series":"Capesize","date":"2007-11-11","usd":184900},{"series":"Capesize","date":"2007-11-13","usd":177500},{"series":"Capesize","date":"2007-11-16","usd":175600},{"series":"Capesize","date":"2007-11-18","usd":173800},{"series":"Capesize","date":"2007-11-20","usd":165100},{"series":"Capesize","date":"2007-11-23","usd":163900},{"series":"Capesize","date":"2007-11-25","usd":180000},{"series":"Capesize","date":"2007-11-28","usd":184300},{"series":"Capesize","date":"2007-12-01","usd":184300},{"series":"Capesize","date":"2007-12-03","usd":180600},{"series":"Capesize","date":"2007-12-05","usd":177500},{"series":"Capesize","date":"2007-12-08","usd":173200},{"series":"Capesize","date":"2007-12-09","usd":176900},{"series":"Capesize","date":"2007-12-12","usd":176900},{"series":"Capesize","date":"2007-12-14","usd":173200},{"series":"Capesize","date":"2007-12-15","usd":170100},{"series":"Capesize","date":"2007-12-17","usd":166400},{"series":"Capesize","date":"2007-12-20","usd":163900},{"series":"Capesize","date":"2007-12-23","usd":162000},{"series":"Capesize","date":"2007-12-26","usd":160200},{"series":"Capesize","date":"2007-12-29","usd":157700},{"series":"Capesize","date":"2007-12-31","usd":152700},{"series":"Capesize","date":"2008-01-03","usd":149100},{"series":"Capesize","date":"2008-01-06","usd":145300},{"series":"Capesize","date":"2008-01-08","usd":125000},{"series":"Capesize","date":"2008-01-11","usd":109500},{"series":"Capesize","date":"2008-01-13","usd":77600},{"series":"Capesize","date":"2008-01-16","usd":86000},{"series":"Capesize","date":"2008-01-19","usd":90900},{"series":"Capesize","date":"2008-01-20","usd":73600},{"series":"Capesize","date":"2008-01-24","usd":73600},{"series":"Capesize","date":"2008-01-25","usd":69900},{"series":"Capesize","date":"2008-01-27","usd":98300},{"series":"Capesize","date":"2008-01-30","usd":101400},{"series":"Capesize","date":"2008-02-02","usd":102000},{"series":"Capesize","date":"2008-02-03","usd":97100},{"series":"Capesize","date":"2008-02-04","usd":112000},{"series":"Capesize","date":"2008-02-08","usd":115000},{"series":"Capesize","date":"2008-02-10","usd":131700},{"series":"Capesize","date":"2008-02-12","usd":131500},
{"series":"Supramax","date":"2005-11-21","usd":16100},{"series":"Supramax","date":"2005-11-26","usd":16900},{"series":"Supramax","date":"2005-12-02","usd":18200},{"series":"Supramax","date":"2005-12-08","usd":18400},{"series":"Supramax","date":"2005-12-14","usd":17100},{"series":"Supramax","date":"2005-12-21","usd":17300},{"series":"Supramax","date":"2005-12-27","usd":18200},{"series":"Supramax","date":"2006-01-02","usd":18700},{"series":"Supramax","date":"2006-01-09","usd":17600},{"series":"Supramax","date":"2006-01-15","usd":17100},{"series":"Supramax","date":"2006-01-21","usd":15500},{"series":"Supramax","date":"2006-01-27","usd":13700},{"series":"Supramax","date":"2006-02-01","usd":15000},{"series":"Supramax","date":"2006-02-06","usd":16100},{"series":"Supramax","date":"2006-02-12","usd":17100},{"series":"Supramax","date":"2006-02-18","usd":18200},{"series":"Supramax","date":"2006-02-25","usd":18400},{"series":"Supramax","date":"2006-03-03","usd":19200},{"series":"Supramax","date":"2006-03-09","usd":20100},{"series":"Supramax","date":"2006-03-15","usd":20500},{"series":"Supramax","date":"2006-03-22","usd":20300},{"series":"Supramax","date":"2006-03-28","usd":20100},{"series":"Supramax","date":"2006-04-03","usd":20800},{"series":"Supramax","date":"2006-04-10","usd":21400},{"series":"Supramax","date":"2006-04-16","usd":21900},{"series":"Supramax","date":"2006-04-24","usd":21900},{"series":"Supramax","date":"2006-05-01","usd":21400},{"series":"Supramax","date":"2006-05-09","usd":21900},{"series":"Supramax","date":"2006-05-17","usd":22400},{"series":"Supramax","date":"2006-05-23","usd":21900},{"series":"Supramax","date":"2006-05-31","usd":21600},{"series":"Supramax","date":"2006-06-08","usd":22200},{"series":"Supramax","date":"2006-06-16","usd":22400},{"series":"Supramax","date":"2006-06-24","usd":22600},{"series":"Supramax","date":"2006-07-02","usd":23500},{"series":"Supramax","date":"2006-07-10","usd":23000},{"series":"Supramax","date":"2006-07-17","usd":22400},{"series":"Supramax","date":"2006-07-25","usd":23000},{"series":"Supramax","date":"2006-07-31","usd":24000},{"series":"Supramax","date":"2006-08-07","usd":25600},{"series":"Supramax","date":"2006-08-13","usd":26600},{"series":"Supramax","date":"2006-08-19","usd":26900},{"series":"Supramax","date":"2006-08-26","usd":27200},{"series":"Supramax","date":"2006-09-01","usd":28200},{"series":"Supramax","date":"2006-09-07","usd":28800},{"series":"Supramax","date":"2006-09-12","usd":29300},{"series":"Supramax","date":"2006-09-17","usd":29800},{"series":"Supramax","date":"2006-09-23","usd":28800},{"series":"Supramax","date":"2006-09-28","usd":28500},{"series":"Supramax","date":"2006-10-05","usd":29300},{"series":"Supramax","date":"2006-10-12","usd":30000},{"series":"Supramax","date":"2006-10-18","usd":30400},{"series":"Supramax","date":"2006-10-24","usd":29800},{"series":"Supramax","date":"2006-10-30","usd":29300},{"series":"Supramax","date":"2006-11-06","usd":29300},{"series":"Supramax","date":"2006-11-12","usd":29800},{"series":"Supramax","date":"2006-11-18","usd":30400},{"series":"Supramax","date":"2006-11-25","usd":30800},{"series":"Supramax","date":"2006-12-01","usd":31200},{"series":"Supramax","date":"2006-12-07","usd":31400},{"series":"Supramax","date":"2006-12-13","usd":31200},{"series":"Supramax","date":"2006-12-20","usd":31400},{"series":"Supramax","date":"2006-12-26","usd":31600},{"series":"Supramax","date":"2007-01-01","usd":32000},{"series":"Supramax","date":"2007-01-07","usd":32000},{"series":"Supramax","date":"2007-01-12","usd":31400},{"series":"Supramax","date":"2007-01-17","usd":30200},{"series":"Supramax","date":"2007-01-22","usd":29000},{"series":"Supramax","date":"2007-01-28","usd":28400},{"series":"Supramax","date":"2007-02-03","usd":28000},{"series":"Supramax","date":"2007-02-08","usd":27800},{"series":"Supramax","date":"2007-02-14","usd":28400},{"series":"Supramax","date":"2007-02-20","usd":29200},{"series":"Supramax","date":"2007-02-27","usd":30200},{"series":"Supramax","date":"2007-03-05","usd":31400},{"series":"Supramax","date":"2007-03-11","usd":32600},{"series":"Supramax","date":"2007-03-17","usd":33800},{"series":"Supramax","date":"2007-03-24","usd":35000},{"series":"Supramax","date":"2007-03-30","usd":35600},{"series":"Supramax","date":"2007-04-05","usd":36200},{"series":"Supramax","date":"2007-04-12","usd":37100},{"series":"Supramax","date":"2007-04-18","usd":38000},{"series":"Supramax","date":"2007-04-24","usd":39200},{"series":"Supramax","date":"2007-04-30","usd":39800},{"series":"Supramax","date":"2007-05-07","usd":40400},{"series":"Supramax","date":"2007-05-11","usd":41600},{"series":"Supramax","date":"2007-05-16","usd":41000},{"series":"Supramax","date":"2007-05-22","usd":39500},{"series":"Supramax","date":"2007-05-29","usd":38800},{"series":"Supramax","date":"2007-06-07","usd":39200},{"series":"Supramax","date":"2007-06-16","usd":38800},{"series":"Supramax","date":"2007-06-26","usd":38800},{"series":"Supramax","date":"2007-07-08","usd":38800},{"series":"Supramax","date":"2007-07-15","usd":40400},{"series":"Supramax","date":"2007-07-21","usd":41600},{"series":"Supramax","date":"2007-07-27","usd":41600},{"series":"Supramax","date":"2007-08-03","usd":41000},{"series":"Supramax","date":"2007-08-09","usd":41400},{"series":"Supramax","date":"2007-08-14","usd":42100},{"series":"Supramax","date":"2007-08-18","usd":43300},{"series":"Supramax","date":"2007-08-23","usd":44500},{"series":"Supramax","date":"2007-08-26","usd":47600},{"series":"Supramax","date":"2007-08-29","usd":49500},{"series":"Supramax","date":"2007-09-01","usd":51300},{"series":"Supramax","date":"2007-09-06","usd":53800},{"series":"Supramax","date":"2007-09-11","usd":55000},{"series":"Supramax","date":"2007-09-14","usd":55700},{"series":"Supramax","date":"2007-09-15","usd":59700},{"series":"Supramax","date":"2007-09-17","usd":56300},{"series":"Supramax","date":"2007-09-22","usd":56900},{"series":"Supramax","date":"2007-09-26","usd":58800},{"series":"Supramax","date":"2007-10-01","usd":60300},{"series":"Supramax","date":"2007-10-05","usd":61200},{"series":"Supramax","date":"2007-10-07","usd":66800},{"series":"Supramax","date":"2007-10-09","usd":69900},{"series":"Supramax","date":"2007-10-14","usd":71700},{"series":"Supramax","date":"2007-10-18","usd":73000},{"series":"Supramax","date":"2007-10-22","usd":73800},{"series":"Supramax","date":"2007-10-26","usd":74800},{"series":"Supramax","date":"2007-10-29","usd":73600},{"series":"Supramax","date":"2007-11-03","usd":72600},{"series":"Supramax","date":"2007-11-08","usd":72400},{"series":"Supramax","date":"2007-11-11","usd":71700},{"series":"Supramax","date":"2007-11-13","usd":67400},{"series":"Supramax","date":"2007-11-17","usd":64900},{"series":"Supramax","date":"2007-11-19","usd":63100},{"series":"Supramax","date":"2007-11-22","usd":60000},{"series":"Supramax","date":"2007-11-25","usd":57500},{"series":"Supramax","date":"2007-11-30","usd":58100},{"series":"Supramax","date":"2007-12-04","usd":59000},{"series":"Supramax","date":"2007-12-08","usd":57500},{"series":"Supramax","date":"2007-12-11","usd":55000},{"series":"Supramax","date":"2007-12-14","usd":53200},{"series":"Supramax","date":"2007-12-17","usd":48900},{"series":"Supramax","date":"2007-12-20","usd":47600},{"series":"Supramax","date":"2007-12-25","usd":47000},{"series":"Supramax","date":"2007-12-30","usd":46400},{"series":"Supramax","date":"2008-01-02","usd":45200},{"series":"Supramax","date":"2008-01-06","usd":44500},{"series":"Supramax","date":"2008-01-10","usd":42900},{"series":"Supramax","date":"2008-01-12","usd":40200},{"series":"Supramax","date":"2008-01-13","usd":37100},{"series":"Supramax","date":"2008-01-16","usd":34000},{"series":"Supramax","date":"2008-01-19","usd":32800},{"series":"Supramax","date":"2008-01-22","usd":30900},{"series":"Supramax","date":"2008-01-25","usd":28800},{"series":"Supramax","date":"2008-01-28","usd":27800},{"series":"Supramax","date":"2008-02-01","usd":28500},{"series":"Supramax","date":"2008-02-04","usd":30300},{"series":"Supramax","date":"2008-02-06","usd":31500},{"series":"Supramax","date":"2008-02-08","usd":34000},{"series":"Supramax","date":"2008-02-10","usd":37700},{"series":"Supramax","date":"2008-02-12","usd":41200},
{"series":"Handysize","date":"2006-05-20","usd":15800},{"series":"Handysize","date":"2006-05-27","usd":15800},{"series":"Handysize","date":"2006-06-05","usd":15800},{"series":"Handysize","date":"2006-06-16","usd":15800},{"series":"Handysize","date":"2006-06-21","usd":15200},{"series":"Handysize","date":"2006-06-29","usd":15000},{"series":"Handysize","date":"2006-07-06","usd":14800},{"series":"Handysize","date":"2006-07-16","usd":14500},{"series":"Handysize","date":"2006-07-25","usd":14500},{"series":"Handysize","date":"2006-07-28","usd":15000},{"series":"Handysize","date":"2006-07-31","usd":15500},{"series":"Handysize","date":"2006-08-04","usd":17100},{"series":"Handysize","date":"2006-08-07","usd":16900},{"series":"Handysize","date":"2006-08-10","usd":17600},{"series":"Handysize","date":"2006-08-16","usd":18000},{"series":"Handysize","date":"2006-08-22","usd":18400},{"series":"Handysize","date":"2006-08-27","usd":19200},{"series":"Handysize","date":"2006-09-01","usd":19500},{"series":"Handysize","date":"2006-09-07","usd":20500},{"series":"Handysize","date":"2006-09-12","usd":20800},{"series":"Handysize","date":"2006-09-17","usd":21600},{"series":"Handysize","date":"2006-09-21","usd":21900},{"series":"Handysize","date":"2006-09-24","usd":21600},{"series":"Handysize","date":"2006-09-29","usd":20500},{"series":"Handysize","date":"2006-10-02","usd":19800},{"series":"Handysize","date":"2006-10-07","usd":19200},{"series":"Handysize","date":"2006-10-10","usd":20800},{"series":"Handysize","date":"2006-10-13","usd":21900},{"series":"Handysize","date":"2006-10-18","usd":21400},{"series":"Handysize","date":"2006-10-23","usd":20800},{"series":"Handysize","date":"2006-10-27","usd":19800},{"series":"Handysize","date":"2006-11-03","usd":19500},{"series":"Handysize","date":"2006-11-09","usd":19800},{"series":"Handysize","date":"2006-11-15","usd":19800},{"series":"Handysize","date":"2006-11-20","usd":20500},{"series":"Handysize","date":"2006-11-25","usd":21000},{"series":"Handysize","date":"2006-12-02","usd":22400},{"series":"Handysize","date":"2006-12-10","usd":22100},{"series":"Handysize","date":"2006-12-20","usd":21800},{"series":"Handysize","date":"2006-12-29","usd":21800},{"series":"Handysize","date":"2007-01-07","usd":21800},{"series":"Handysize","date":"2007-01-17","usd":21800},{"series":"Handysize","date":"2007-01-23","usd":20900},{"series":"Handysize","date":"2007-01-28","usd":19700},{"series":"Handysize","date":"2007-02-02","usd":19200},{"series":"Handysize","date":"2007-02-08","usd":19200},{"series":"Handysize","date":"2007-02-13","usd":19700},{"series":"Handysize","date":"2007-02-17","usd":20600},{"series":"Handysize","date":"2007-02-24","usd":21200},{"series":"Handysize","date":"2007-03-02","usd":21800},{"series":"Handysize","date":"2007-03-06","usd":22400},{"series":"Handysize","date":"2007-03-11","usd":23300},{"series":"Handysize","date":"2007-03-17","usd":25200},{"series":"Handysize","date":"2007-03-24","usd":25700},{"series":"Handysize","date":"2007-03-30","usd":25400},{"series":"Handysize","date":"2007-04-05","usd":24800},{"series":"Handysize","date":"2007-04-12","usd":24200},{"series":"Handysize","date":"2007-04-18","usd":24500},{"series":"Handysize","date":"2007-04-24","usd":25200},{"series":"Handysize","date":"2007-04-30","usd":25400},{"series":"Handysize","date":"2007-05-07","usd":26400},{"series":"Handysize","date":"2007-05-13","usd":26900},{"series":"Handysize","date":"2007-05-19","usd":26900},{"series":"Handysize","date":"2007-05-25","usd":26400},{"series":"Handysize","date":"2007-06-01","usd":26900},{"series":"Handysize","date":"2007-06-07","usd":26600},{"series":"Handysize","date":"2007-06-13","usd":26400},{"series":"Handysize","date":"2007-06-20","usd":26400},{"series":"Handysize","date":"2007-06-26","usd":26900},{"series":"Handysize","date":"2007-07-02","usd":27200},{"series":"Handysize","date":"2007-07-08","usd":27200},{"series":"Handysize","date":"2007-07-15","usd":27600},{"series":"Handysize","date":"2007-07-21","usd":27800},{"series":"Handysize","date":"2007-07-27","usd":28400},{"series":"Handysize","date":"2007-08-03","usd":29000},{"series":"Handysize","date":"2007-08-09","usd":29900},{"series":"Handysize","date":"2007-08-15","usd":30600},{"series":"Handysize","date":"2007-08-21","usd":30900},{"series":"Handysize","date":"2007-08-26","usd":31800},{"series":"Handysize","date":"2007-09-01","usd":32100},{"series":"Handysize","date":"2007-09-06","usd":33400},{"series":"Handysize","date":"2007-09-09","usd":35900},{"series":"Handysize","date":"2007-09-14","usd":36500},{"series":"Handysize","date":"2007-09-17","usd":37100},{"series":"Handysize","date":"2007-09-22","usd":38300},{"series":"Handysize","date":"2007-09-26","usd":39600},{"series":"Handysize","date":"2007-10-01","usd":40000},{"series":"Handysize","date":"2007-10-06","usd":40800},{"series":"Handysize","date":"2007-10-11","usd":42700},{"series":"Handysize","date":"2007-10-14","usd":43900},{"series":"Handysize","date":"2007-10-18","usd":44900},{"series":"Handysize","date":"2007-10-23","usd":45200},{"series":"Handysize","date":"2007-10-28","usd":44500},{"series":"Handysize","date":"2007-11-02","usd":44200},{"series":"Handysize","date":"2007-11-05","usd":42700},{"series":"Handysize","date":"2007-11-08","usd":41700},{"series":"Handysize","date":"2007-11-11","usd":42100},{"series":"Handysize","date":"2007-11-16","usd":41200},{"series":"Handysize","date":"2007-11-20","usd":40400},{"series":"Handysize","date":"2007-11-25","usd":40000},{"series":"Handysize","date":"2007-11-30","usd":40400},{"series":"Handysize","date":"2007-12-05","usd":40800},{"series":"Handysize","date":"2007-12-09","usd":40800},{"series":"Handysize","date":"2007-12-14","usd":40400},{"series":"Handysize","date":"2007-12-19","usd":39600},{"series":"Handysize","date":"2007-12-23","usd":39000},{"series":"Handysize","date":"2007-12-28","usd":37700},{"series":"Handysize","date":"2008-01-02","usd":36700},{"series":"Handysize","date":"2008-01-06","usd":36500},{"series":"Handysize","date":"2008-01-11","usd":35900},{"series":"Handysize","date":"2008-01-14","usd":34600},{"series":"Handysize","date":"2008-01-17","usd":33400},{"series":"Handysize","date":"2008-01-20","usd":30900},{"series":"Handysize","date":"2008-01-21","usd":27600},{"series":"Handysize","date":"2008-01-24","usd":27200},{"series":"Handysize","date":"2008-01-26","usd":26000},{"series":"Handysize","date":"2008-01-28","usd":23100},{"series":"Handysize","date":"2008-02-01","usd":22600},{"series":"Handysize","date":"2008-02-05","usd":22600},{"series":"Handysize","date":"2008-02-08","usd":23500},{"series":"Handysize","date":"2008-02-10","usd":27800},{"series":"Handysize","date":"2008-02-12","usd":29700}
],
"table": [
{"row":"header","col":"label","text":"อัตราค่าระวางเฉลี่ย"},{"row":"header","col":"2547","text":"2547"},{"row":"header","col":"2548","text":"2548"},{"row":"header","col":"2549","text":"2549"},{"row":"header","col":"2550","text":"2550"},{"row":"header","col":"2551","text":"2551"},
{"row":"Capesize","col":"label","text":"Capesize"},{"row":"Capesize","col":"2547","text":"65,308"},{"row":"Capesize","col":"2548","text":"46,694"},{"row":"Capesize","col":"2549","text":"44,314"},{"row":"Capesize","col":"2550","text":"112,387"},{"row":"Capesize","col":"2551","text":"109,409"},
{"row":"Panamax","col":"label","text":"Panamax"},{"row":"Panamax","col":"2547","text":"32,451"},{"row":"Panamax","col":"2548","text":"21,744"},{"row":"Panamax","col":"2549","text":"25,064"},{"row":"Panamax","col":"2550","text":"55,658"},{"row":"Panamax","col":"2551","text":"44,284"},
{"row":"Handymax/Supramax","col":"label","text":"Handymax/Supramax"},{"row":"Handymax/Supramax","col":"2547","text":"25,473"},{"row":"Handymax/Supramax","col":"2548","text":"18,639"},{"row":"Handymax/Supramax","col":"2549","text":"23,834"},{"row":"Handymax/Supramax","col":"2550","text":"45,159"},{"row":"Handymax/Supramax","col":"2551","text":"35,571"},
{"row":"Handysize","col":"label","text":"Handysize"},{"row":"Handysize","col":"2547","text":""},{"row":"Handysize","col":"2548","text":""},{"row":"Handysize","col":"2549","text":"19,634"},{"row":"Handysize","col":"2550","text":"30,424"},{"row":"Handysize","col":"2551","text":"30,056"}
]
},
"layer": [
{
"layer": [
{
"data": {"name": "rates"},
"mark": {"type": "line", "strokeWidth": 3.5, "strokeJoin": "round"},
"encoding": {
"x": {"field": "date", "type": "temporal",
"scale": {"type": "utc", "domain": [{"year": 2004, "month": 1, "date": 1, "utc": true}, {"year": 2008, "month": 3, "date": 27, "utc": true}]},
"axis": {"title": null, "tickCount": {"interval": "month", "step": 2}, "labelExpr": "[['ม.ค','ก.พ','มี.ค','เม.ย','พ.ค','มิ.ย','ก.ค','ส.ค','ก.ย','ต.ค','พ.ย','ธ.ค'][utcmonth(datum.value)], '.-' + ((utcyear(datum.value) + 543) % 100)]", "offset": -10, "domain": false, "tickSize": 22, "tickColor": "black", "tickWidth": 1.5, "labelFontSize": 25, "labelColor": "black", "labelFont": "Liberation Sans, Tahoma, sans-serif", "labelPadding": 28, "labelLineHeight": 48, "labelBaseline": "top", "labelOverlap": false, "labelBound": false, "labelFlush": false, "grid": false}},
"y": {"field": "usd", "type": "quantitative",
"scale": {"domain": [0, 200000], "nice": false},
"axis": {"title": null, "values": [0, 20000, 40000, 60000, 80000, 100000, 120000, 140000, 160000, 180000, 200000], "format": "$,.0f", "labelFontSize": 26, "labelColor": "black", "labelFont": "Liberation Sans, sans-serif", "tickSize": 8, "tickColor": "black", "tickWidth": 1.5, "domainColor": "black", "domainWidth": 2, "labelPadding": 21, "grid": false}},
"color": {"field": "series", "type": "nominal",
"scale": {"domain": ["Handymax", "Panamax", "Capesize", "Supramax", "Handysize"], "range": ["#0000FF", "#FF00FF", "#008000", "#00FFFF", "#800000"]},
"legend": {"title": null, "orient": "none", "legendX": 20, "legendY": 763, "direction": "horizontal", "columns": 3, "fillColor": "#FFFF99", "padding": 13, "symbolType": "stroke", "symbolSize": 4761, "symbolStrokeWidth": 4, "symbolOffset": 16, "labelOffset": 1, "labelFontSize": 24, "labelFont": "Liberation Sans, sans-serif", "labelColor": "black", "labelLimit": 900, "gridAlign": "all", "columnPadding": 42, "rowPadding": 21, "clipHeight": 24,
"labelExpr": "datum.label == 'Handymax' ? 'Handymax - Japan-SK / Nopac rv' : datum.label == 'Panamax' ? 'Panamax - Japan-SK / Nopac rv' : datum.label == 'Capesize' ? 'Capesize - Nopac round v ⠀⠀⠀⠀⠀⠀⠀' : datum.label == 'Supramax' ? 'Supramax - Japan-SK / Nopac rv' : 'Handysize - SE Asia & S Korea - Japan'"}}
}
},
{
"data": {"values": [{}]},
"mark": {"type": "rule", "color": "black", "strokeWidth": 2.5},
"encoding": {"y": {"datum": 0}}
}
]
},
{
"data": {"name": "table"},
"encoding": {"y": {"field": "row", "type": "nominal", "scale": {"type": "band", "domain": ["header", "Capesize", "Panamax", "Handymax/Supramax", "Handysize"], "range": [-3, 249], "paddingInner": 0, "paddingOuter": 0}, "axis": null}},
"layer": [
{
"transform": [{"filter": "datum.col == 'label'"}],
"encoding": {"x": {"field": "col", "type": "nominal", "scale": {"type": "band", "domain": ["label"], "range": [375, 647], "paddingInner": 0, "paddingOuter": 0}, "axis": null}},
"layer": [
{"mark": {"type": "rect", "stroke": "white", "strokeWidth": 3}, "encoding": {"fill": {"field": "row", "type": "nominal", "scale": {"domain": ["header", "Capesize", "Panamax", "Handymax/Supramax", "Handysize"], "range": ["#000099", "#CCECFF", "#FFCC99", "#CCFFCC", "#FFCCCC"]}, "legend": null}}},
{"transform": [{"filter": "datum.row == 'header'"}], "mark": {"type": "text", "fontSize": 24, "fontWeight": "bold", "color": "white", "font": "Tahoma, Noto Sans Thai, sans-serif"}, "encoding": {"text": {"field": "text"}}},
{"transform": [{"filter": "datum.row != 'header'"}], "mark": {"type": "text", "align": "left", "dx": 9, "fontSize": 22, "fontWeight": "bold", "color": "black", "font": "Liberation Sans, sans-serif"}, "encoding": {"x": {"field": "col", "type": "nominal", "bandPosition": 0}, "text": {"field": "text"}}}
]
},
{
"transform": [{"filter": "datum.col == '2547' || datum.col == '2548' || datum.col == '2549'"}],
"encoding": {"x": {"field": "col", "type": "nominal", "scale": {"type": "band", "domain": ["2547", "2548", "2549"], "range": [647, 1047], "paddingInner": 0, "paddingOuter": 0}, "axis": null}},
"layer": [
{"mark": {"type": "rect", "stroke": "white", "strokeWidth": 3}, "encoding": {"fill": {"field": "row", "type": "nominal", "legend": null}}},
{"transform": [{"filter": "datum.row == 'header'"}], "mark": {"type": "text", "fontSize": 23, "fontWeight": "bold", "color": "white", "font": "DejaVu Sans, sans-serif"}, "encoding": {"text": {"field": "text"}}},
{"transform": [{"filter": "datum.row != 'header'"}], "mark": {"type": "text", "align": "right", "dx": -21, "fontSize": 23, "fontWeight": "bold", "color": "black", "font": "DejaVu Sans, sans-serif"}, "encoding": {"x": {"field": "col", "type": "nominal", "bandPosition": 1}, "text": {"field": "text"}}}
]
},
{
"transform": [{"filter": "datum.col == '2550' || datum.col == '2551'"}],
"encoding": {"x": {"field": "col", "type": "nominal", "scale": {"type": "band", "domain": ["2550", "2551"], "range": [1047, 1345], "paddingInner": 0, "paddingOuter": 0}, "axis": null}},
"layer": [
{"mark": {"type": "rect", "stroke": "white", "strokeWidth": 3}, "encoding": {"fill": {"field": "row", "type": "nominal", "legend": null}}},
{"transform": [{"filter": "datum.row == 'header'"}], "mark": {"type": "text", "fontSize": 23, "fontWeight": "bold", "color": "white", "font": "DejaVu Sans, sans-serif"}, "encoding": {"text": {"field": "text"}}},
{"transform": [{"filter": "datum.row != 'header'"}], "mark": {"type": "text", "align": "right", "dx": -21, "fontSize": 23, "fontWeight": "bold", "color": "black", "font": "DejaVu Sans, sans-serif"}, "encoding": {"x": {"field": "col", "type": "nominal", "bandPosition": 1}, "text": {"field": "text"}}}
]
}
],
"resolve": {"scale": {"x": "independent"}}
}
],
"resolve": {"scale": {"x": "independent", "y": "independent"}}
}
